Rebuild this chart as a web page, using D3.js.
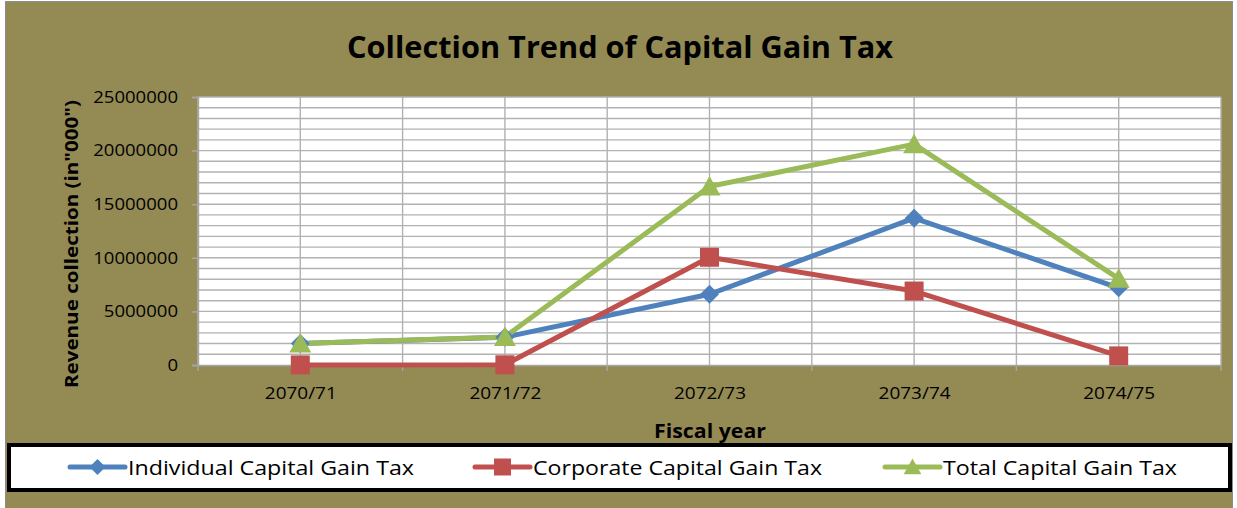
<!DOCTYPE html>
<html>
<head>
<meta charset="utf-8">
<script src="https://cdn.jsdelivr.net/npm/d3@7/dist/d3.min.js"></script>
<style>
  html, body { margin: 0; padding: 0; background: #ffffff; }
  svg { display: block; }
  text { font-family: "Open Sans", Lato, sans-serif; fill: #000; }
</style>
</head>
<body>
<svg id="chart" width="1237" height="508"></svg>
<script>
// ---- data ----
const categories = ["2070/71", "2071/72", "2072/73", "2073/74", "2074/75"];
const individual = [2000000, 2600000, 6600000, 13700000, 7200000];
const corporate  = [10000, 20000, 10050000, 6900000, 850000];
const total      = [2010000, 2620000, 16650000, 20600000, 8050000];
const yTicks = [0, 5000000, 10000000, 15000000, 20000000, 25000000];
const seriesNames = ["Individual Capital Gain Tax", "Corporate Capital Gain Tax", "Total Capital Gain Tax"];

const colors = ["#4f81bd", "#c0504d", "#9bbb59"];
const shapes = ["diamond", "square", "triangle"];
const seriesValues = [individual, corporate, total];

const svg = d3.select("#chart");
const FONT = '"Open Sans", Lato, sans-serif';

// background & border
svg.append("rect").attr("x", 5.5).attr("y", 1.5).attr("width", 1227).attr("height", 510)
  .attr("fill", "#948a54").attr("stroke", "#8c8c8c").attr("stroke-width", 1);

const plot = {left: 198, right: 1221, top: 97, bottom: 365};

const x = d3.scalePoint().domain(categories).range([plot.left, plot.right]).padding(0.5);
const y = d3.scaleLinear().domain([0, 25000000]).range([plot.bottom, plot.top]);
const step = x.step();

// plot area
svg.append("rect").attr("x", plot.left).attr("y", plot.top)
  .attr("width", plot.right - plot.left).attr("height", plot.bottom - plot.top)
  .attr("fill", "#ffffff");

// horizontal gridlines every 1,000,000
const gridG = svg.append("g");
d3.range(1, 26).forEach(i => {
  const yy = y(i * 1000000);
  gridG.append("line").attr("x1", plot.left).attr("x2", plot.right)
    .attr("y1", yy).attr("y2", yy).attr("stroke", "#b2b2b2").attr("stroke-width", 1.4);
});
// vertical gridlines at category boundaries and centers
const vPos = [];
categories.forEach((c) => {
  vPos.push(x(c) - step / 2);
  vPos.push(x(c));
});
vPos.push(plot.right);
vPos.forEach(xx => {
  gridG.append("line").attr("x1", xx).attr("x2", xx)
    .attr("y1", plot.top).attr("y2", plot.bottom).attr("stroke", "#b2b2b2").attr("stroke-width", 1.4);
});

// y axis
const yAxis = d3.axisLeft(y).tickValues(yTicks).tickSize(6).tickPadding(14)
  .tickFormat(d3.format("d"));
const yg = svg.append("g").attr("transform", `translate(${plot.left},0)`).call(yAxis);
yg.select(".domain").attr("stroke", "#a6a6a6").attr("stroke-width", 1.4);
yg.selectAll(".tick line").attr("stroke", "#a6a6a6").attr("stroke-width", 1.4);
yg.selectAll(".tick text").attr("font-size", 16.5).attr("font-family", FONT)
  .attr("fill", "#000").attr("textLength", d => String(d).length * 10.6)
  .attr("lengthAdjust", "spacingAndGlyphs");

// x axis
const xAxis = d3.axisBottom(x).tickSize(0).tickPadding(22);
const xg = svg.append("g").attr("transform", `translate(0,${plot.bottom})`).call(xAxis);
xg.select(".domain").attr("stroke", "#a6a6a6").attr("stroke-width", 1.4);
xg.selectAll(".tick text").attr("font-size", 16.5).attr("font-family", FONT)
  .attr("fill", "#000").attr("textLength", 72).attr("lengthAdjust", "spacingAndGlyphs");
// category boundary ticks
d3.range(categories.length + 1).forEach(i => {
  const xx = plot.left + i * step;
  xg.append("line").attr("x1", xx).attr("x2", xx).attr("y1", 0).attr("y2", 6)
    .attr("stroke", "#a6a6a6").attr("stroke-width", 1.4);
});

// marker path generator
function markerPath(shape, s) {
  if (shape === "diamond") return `M0,${-s}L${s},0L0,${s}L${-s},0Z`;
  if (shape === "square") return `M${-s},${-s}H${s}V${s}H${-s}Z`;
  return `M0,${-s * 1.05}L${s * 1.1},${s * 0.9}L${-s * 1.1},${s * 0.9}Z`;
}
const markerSize = [9.5, 9.5, 10];

// lines
const line = d3.line().x((d, i) => x(categories[i])).y(d => y(d));
seriesValues.forEach((vals, si) => {
  svg.append("path").datum(vals).attr("d", line)
    .attr("fill", "none").attr("stroke", colors[si]).attr("stroke-width", 5)
    .attr("stroke-linejoin", "round").attr("stroke-linecap", "round");
});
seriesValues.forEach((vals, si) => {
  svg.append("g").selectAll("path").data(vals).join("path")
    .attr("transform", (d, i) => `translate(${x(categories[i])},${y(d)})`)
    .attr("d", markerPath(shapes[si], markerSize[si]))
    .attr("fill", colors[si]);
});

// title
svg.append("text").attr("x", 620).attr("y", 58).attr("text-anchor", "middle")
  .attr("font-size", 31).attr("font-weight", "bold")
  .attr("textLength", 546).attr("lengthAdjust", "spacingAndGlyphs")
  .text("Collection Trend of Capital Gain Tax");

// y axis title
svg.append("text").attr("transform", "translate(78,244) rotate(-90)")
  .attr("text-anchor", "middle").attr("font-size", 18).attr("font-weight", "bold")
  .attr("textLength", 288).attr("lengthAdjust", "spacingAndGlyphs")
  .text('Revenue collection (in"000")');

// x axis title
svg.append("text").attr("x", 710).attr("y", 438).attr("text-anchor", "middle")
  .attr("font-size", 20).attr("font-weight", "bold")
  .attr("textLength", 112).attr("lengthAdjust", "spacingAndGlyphs")
  .text("Fiscal year");

// legend
svg.append("rect").attr("x", 9).attr("y", 445).attr("width", 1221).attr("height", 45)
  .attr("fill", "#ffffff").attr("stroke", "#000").attr("stroke-width", 4);
const legendX = [70, 475, 885];
const legendTextLen = [286, 289, 234];
const legendY = 467;
seriesNames.forEach((name, si) => {
  const lx = legendX[si];
  svg.append("line").attr("x1", lx).attr("x2", lx + 55).attr("y1", legendY).attr("y2", legendY)
    .attr("stroke", colors[si]).attr("stroke-width", 5).attr("stroke-linecap", "round");
  svg.append("path").attr("transform", `translate(${lx + 27.5},${legendY})`)
    .attr("d", markerPath(shapes[si], si === 1 ? 8.5 : 8)).attr("fill", colors[si]);
  svg.append("text").attr("x", lx + 58).attr("y", legendY + 7.5)
    .attr("font-size", 20).attr("textLength", legendTextLen[si]).attr("lengthAdjust", "spacingAndGlyphs")
    .text(name);
});
</script>
</body>
</html>
